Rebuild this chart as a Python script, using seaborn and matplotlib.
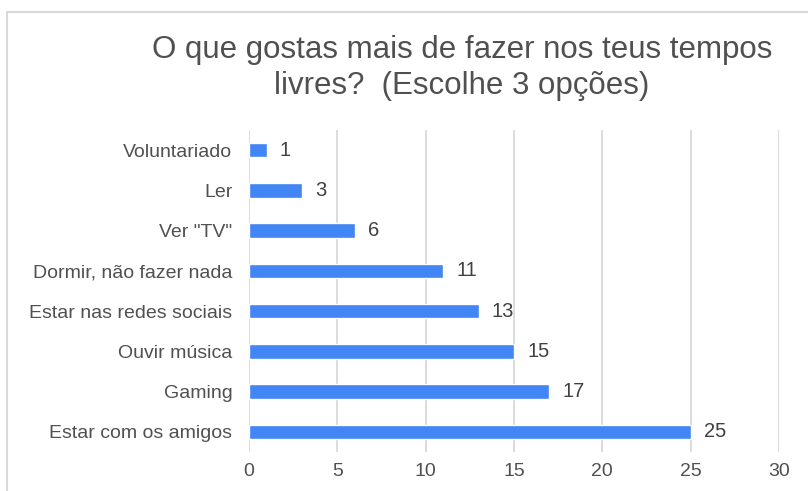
import matplotlib
matplotlib.use("Agg")
import matplotlib.pyplot as plt
import seaborn as sns
import pandas as pd
from matplotlib.patches import Rectangle

categories = ["Voluntariado", "Ler", 'Ver "TV"', "Dormir, não fazer nada",
              "Estar nas redes sociais", "Ouvir música", "Gaming", "Estar com os amigos"]
values = [1, 3, 6, 11, 13, 15, 17, 25]
xticks = [0, 5, 10, 15, 20, 25, 30]
title = "O que gostas mais de fazer nos teus tempos\nlivres?  (Escolhe 3 opções)"

sns.set_theme(style="white")
plt.rcParams['font.family'] = ['Liberation Sans', 'DejaVu Sans']

df = pd.DataFrame({"cat": categories, "val": values})

fig = plt.figure(figsize=(8.08, 4.91), dpi=100)
ax = fig.add_axes([249/808, 1-452/491, (779-249)/808, (452-130)/491])

sns.barplot(data=df, x="val", y="cat", color="#4285F4", saturation=1, width=0.36, ax=ax, zorder=3)

ax.set_xlim(0, 30)
ax.set_xticks(xticks)
ax.xaxis.grid(True, color="#d9d9d9", linewidth=1.3, zorder=0)
ax.set_axisbelow(True)
for s in ax.spines.values():
    s.set_visible(False)
ax.set_xlabel("")
ax.set_ylabel("")
ax.tick_params(axis="x", length=0, pad=8, labelsize=14, labelcolor="#505050")
ax.tick_params(axis="y", length=0, pad=12, labelsize=14, labelcolor="#505050")

for i, v in enumerate(values):
    ax.text(v + 0.75, i, str(v), va="center", ha="left", fontsize=14.5, color="#404040")

fig.text(462/808, 1-68/491, title, ha="center", va="center", fontsize=22.5,
         color="#505050", linespacing=1.25)

fig.patches.append(Rectangle((7/808, -0.1), 1.2, 1-12/491+0.1, transform=fig.transFigure,
                             fill=False, edgecolor="#d9d9d9", linewidth=1.5))

fig.savefig("out.png", dpi=100)
